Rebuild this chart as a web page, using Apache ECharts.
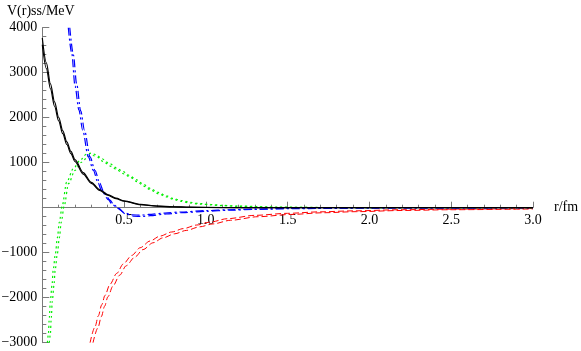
<!DOCTYPE html>
<html>
<head>
<meta charset="utf-8">
<script src="https://cdn.jsdelivr.net/npm/echarts@6/dist/echarts.min.js"></script>
<style>
  html, body { margin: 0; padding: 0; background: #fff; }
  #chart { width: 581px; height: 351px; }
</style>
</head>
<body>
<div id="chart"></div>
<script>
// r in fm, V in MeV
const rBlack = [0, 0.025, 0.05, 0.075, 0.1, 0.125, 0.15, 0.175, 0.2, 0.25, 0.3, 0.35, 0.4, 0.45, 0.5, 0.6, 0.7, 0.8, 0.9, 1.0, 1.2, 1.5, 2.0, 2.5, 3.0]
const vBlack1 = [3770, 3220, 2750, 2350, 2010, 1715, 1465, 1250, 1070, 780, 565, 405, 292, 212, 152, 72, 38, 21, 12, 6, 2, 0, 0, 0, 0]
const vBlack2 = [3620, 3090, 2640, 2255, 1930, 1645, 1405, 1200, 1025, 745, 540, 385, 277, 200, 143, 66, 34, 18, 10, 5, 2, 0, 0, 0, 0]

const rBlue1 = [0.159, 0.18, 0.2, 0.224, 0.247, 0.281, 0.312, 0.342, 0.363, 0.404, 0.424, 0.455, 0.5, 0.55, 0.6, 0.65, 0.75, 0.85, 1.0, 1.15, 1.3, 1.5, 2.0, 2.5, 3.0]
const vBlue1 = [4000, 3430, 2700, 2170, 1720, 1130, 830, 540, 370, 180, 90, 0, -110, -160, -165, -150, -120, -95, -65, -45, -30, -18, -6, -2, 0]
const rBlue2 = [0.168, 0.19, 0.21, 0.235, 0.258, 0.292, 0.322, 0.352, 0.373, 0.414, 0.434, 0.465, 0.51, 0.56, 0.61, 0.66, 0.76, 0.86, 1.0, 1.15, 1.3, 1.5, 2.0, 2.5, 3.0]
const vBlue2 = [4000, 3400, 2750, 2150, 1720, 1130, 830, 540, 370, 170, 80, -10, -140, -190, -195, -178, -140, -110, -80, -55, -38, -22, -8, -3, 0]

const rGreen1 = [0.031, 0.037, 0.043, 0.049, 0.059, 0.067, 0.08, 0.092, 0.104, 0.122, 0.149, 0.19, 0.23, 0.27, 0.3, 0.33, 0.363, 0.414, 0.455, 0.495, 0.53, 0.577, 0.618, 0.66, 0.71, 0.76, 0.8, 0.85, 0.9, 0.965, 1.03, 1.1, 1.2, 1.43, 1.7, 2.0, 3.0]
const vGreen1 = [-3000, -2820, -2440, -2080, -1730, -1370, -1025, -670, -320, 50, 570, 870, 1050, 1190, 1215, 1175, 1090, 975, 880, 800, 720, 620, 520, 430, 340, 262, 205, 160, 122, 92, 72, 52, 35, 13, 5, 2, 0]
const rGreen2 = [0.043, 0.049, 0.055, 0.061, 0.071, 0.079, 0.092, 0.104, 0.116, 0.134, 0.161, 0.2, 0.24, 0.28, 0.31, 0.34, 0.37, 0.42, 0.46, 0.5, 0.54, 0.58, 0.62, 0.66, 0.71, 0.76, 0.8, 0.85, 0.9, 0.965, 1.03, 1.1, 1.2, 1.43, 1.7, 2.0, 3.0]
const vGreen2 = [-3000, -2820, -2440, -2080, -1730, -1370, -1025, -670, -320, 50, 540, 830, 1010, 1140, 1160, 1120, 1030, 920, 830, 750, 670, 580, 480, 400, 310, 240, 185, 140, 105, 80, 62, 45, 30, 10, 4, 1, 0]

const rRed1 = [0.292, 0.322, 0.343, 0.363, 0.383, 0.414, 0.455, 0.495, 0.547, 0.598, 0.659, 0.72, 0.791, 0.862, 0.944, 1.026, 1.13, 1.3, 1.5, 1.7, 1.9, 2.2, 2.5, 3.0]
const vRed1 = [-3000, -2650, -2400, -2160, -1950, -1700, -1460, -1250, -1060, -890, -740, -630, -540, -465, -385, -320, -245, -170, -125, -92, -70, -45, -32, -18]
const rRed2 = [0.31, 0.34, 0.361, 0.381, 0.401, 0.432, 0.473, 0.513, 0.565, 0.616, 0.677, 0.738, 0.809, 0.88, 0.962, 1.044, 1.15, 1.32, 1.52, 1.72, 1.92, 2.2, 2.5, 3.0]
const vRed2 = [-3000, -2670, -2420, -2190, -1980, -1740, -1500, -1290, -1100, -930, -780, -670, -580, -505, -425, -360, -280, -200, -150, -112, -88, -62, -45, -28]

const serif = 'Liberation Serif'
const axisGrey = '#7a7a7a'

const gridTop = 27.7
const gridBottom = 8.3
const yMin = -3000
const yMax = 4000

function zip(rs, vs) {
  return rs.map((r, i) => [r, vs[i]])
}

function curve(rs, vs, color, type, width) {
  return {
    type: 'line',
    data: zip(rs, vs),
    showSymbol: false,
    symbol: 'none',
    smooth: 0.3,
    smoothMonotone: 'x',
    clip: true,
    lineStyle: { color: color, width: width, type: type },
    emphasis: { disabled: true }
  }
}

// move the x axis (line, ticks, labels) up to V = 0
const plotHeight = 351 - gridTop - gridBottom
const zeroOffset = -plotHeight * (0 - yMin) / (yMax - yMin)

const chart = echarts.init(document.getElementById('chart'))
chart.setOption({
  animation: false,
  backgroundColor: '#fff',
  title: {
    text: 'V(r)ss/MeV',
    left: 7,
    top: 4,
    padding: 0,
    textStyle: { fontFamily: serif, fontSize: 14, fontWeight: 'normal', color: '#000' }
  },
  grid: {
    left: 42.3,
    right: 48,
    top: gridTop,
    bottom: gridBottom,
    outerBoundsMode: 'none'
  },
  xAxis: {
    type: 'value',
    min: 0,
    max: 3,
    interval: 0.5,
    offset: zeroOffset,
    name: 'r/fm',
    nameLocation: 'end',
    nameGap: 21,
    nameTextStyle: { fontFamily: serif, fontSize: 14, color: '#000' },
    axisLine: { onZero: false, lineStyle: { color: axisGrey, width: 1 } },
    axisTick: { inside: true, length: 6, lineStyle: { color: axisGrey } },
    minorTick: { show: true, splitNumber: 5, length: 3, lineStyle: { color: axisGrey } },
    axisLabel: {
      fontFamily: serif, fontSize: 14, color: '#000', margin: 6,
      formatter: v => v === 0 ? '' : v.toFixed(1)
    },
    splitLine: { show: false }
  },
  yAxis: {
    type: 'value',
    min: yMin,
    max: yMax,
    interval: 1000,
    axisLine: { show: true, onZero: false, lineStyle: { color: axisGrey, width: 1 } },
    axisTick: { show: true, inside: true, length: 7, lineStyle: { color: axisGrey } },
    minorTick: { show: true, splitNumber: 5, length: 4, lineStyle: { color: axisGrey } },
    axisLabel: {
      fontFamily: serif, fontSize: 14, color: '#000', margin: 5,
      formatter: v => v === 0 ? '' : (v < 0 ? '\u2212' + (-v) : String(v))
    },
    splitLine: { show: false }
  },
  series: [
    curve(rRed1, vRed1, '#ff0000', [6, 3], 1),
    curve(rRed2, vRed2, '#ff0000', [6, 3], 1),
    curve(rGreen1, vGreen1, '#00ee00', [2, 3], 1.2),
    curve(rGreen2, vGreen2, '#00ee00', [2, 3], 1.2),
    curve(rBlue1, vBlue1, '#0000ff', [8, 3, 2, 3], 1.2),
    curve(rBlue2, vBlue2, '#0000ff', [8, 3, 2, 3], 1.2),
    curve(rBlack, vBlack1, '#000000', 'solid', 1.2),
    curve(rBlack, vBlack2, '#000000', 'solid', 1.2)
  ]
})
</script>
</body>
</html>
